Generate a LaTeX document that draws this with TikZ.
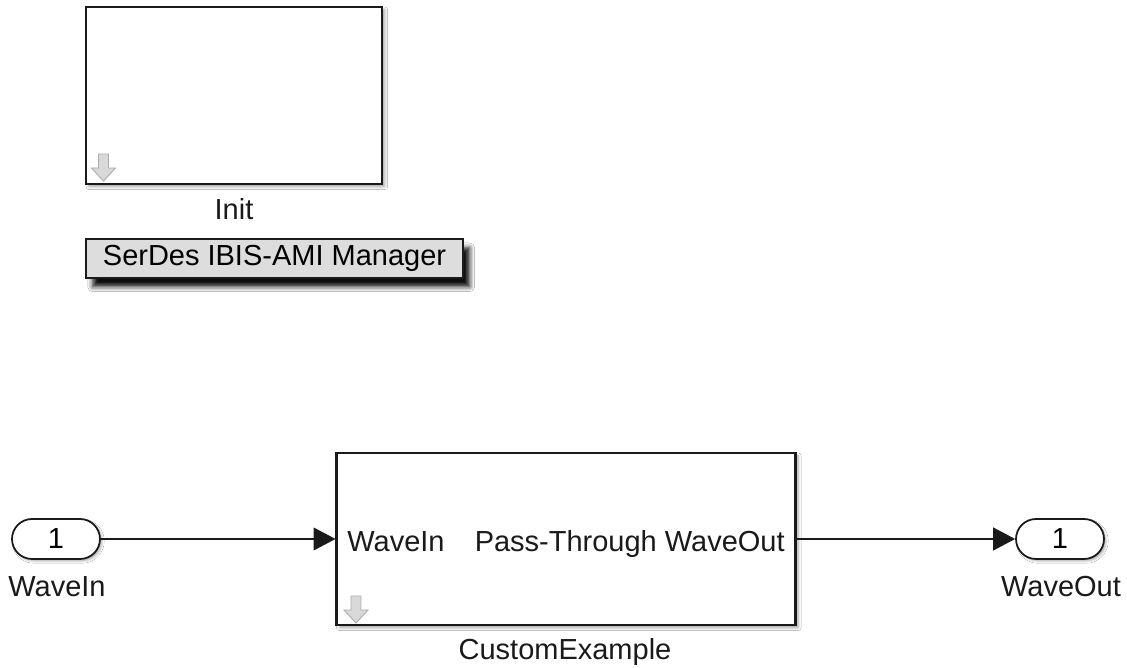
\documentclass[tikz,border=0pt]{standalone}
\usepackage{fontspec}
\setmainfont{Liberation Sans}
\usetikzlibrary{calc,positioning,arrows.meta,shapes.misc,shadows.blur}
\definecolor{Ink}{HTML}{1A1A1A}
\definecolor{Shade}{HTML}{DDDDDD}
\definecolor{Hint}{HTML}{D9D9D9}
\definecolor{HintLine}{HTML}{ABABAB}
\newcommand\sltext{\fontsize{16.5}{19}\selectfont}

\begin{document}
\begin{tikzpicture}[x=0.02cm,y=-0.02cm,
  block/.style={draw=Ink,fill=white,line width=1.2pt,inner sep=0pt,
    blur shadow={shadow xshift=1.6pt,shadow yshift=-1.6pt,shadow blur radius=1.6pt,shadow opacity=35}},
  port/.style={rounded rectangle,draw=Ink,fill=white,line width=1pt,minimum width=1.76cm,minimum height=0.8cm,inner sep=0pt,font=\sltext,
    blur shadow={shadow xshift=1.2pt,shadow yshift=-1.2pt,shadow blur radius=1.2pt,shadow opacity=30}},
  button/.style={draw=Ink,fill=Shade,line width=1.2pt,minimum width=7.54cm,minimum height=0.78cm,inner sep=0pt,font=\sltext,
    blur shadow={shadow xshift=3.8pt,shadow yshift=-5pt,shadow blur radius=2.8pt,shadow opacity=95}},
  caption/.style={font=\sltext,text=Ink,inner sep=0pt,anchor=base},
  wire/.style={draw=Ink,line width=0.85pt,-{Triangle[length=12.5pt,width=13pt]}},
  downhint/.pic={\draw[draw=HintLine,fill=Hint,line width=0.5pt] (-5,-27)--(5,-27)--(5,-13)--(12,-13)--(0,0)--(-12,-13)--(-5,-13)--cycle;}
]
\fill[white] (0,0) rectangle (1127,668);
% initialization subsystem and manager button
\node[block,minimum width=5.92cm,minimum height=3.54cm] (init) at (234,95.5) {};
\pic at ($(init.south west)+(18.5,-4)$) {downhint};
\node[caption] (initlabel) at (234,220) {Init};
\node[button] (manager) at (274.5,258.5) {SerDes IBIS-AMI Manager};
% signal path
\node[port] (inport) at (56,539) {1};
\node[caption] (inlabel) at (57,597) {WaveIn};
\node[block,minimum width=9.18cm,minimum height=3.44cm] (custom) at (566,539) {};
\pic at ($(custom.south west)+(20.5,-3)$) {downhint};
\node[caption,anchor=base west] (custompin) at (347,552) {WaveIn};
\node[caption,anchor=base east] (custompout) at (785,552) {Pass-Through WaveOut};
\node[caption] (customlabel) at (565,660) {CustomExample};
\node[port] (outport) at (1060,539) {1};
\node[caption] (outlabel) at (1061,597) {WaveOut};
\draw[wire] (inport.east) -- (custom.west);
\draw[wire] (custom.east) -- (outport.west);
\end{tikzpicture}
\end{document}
